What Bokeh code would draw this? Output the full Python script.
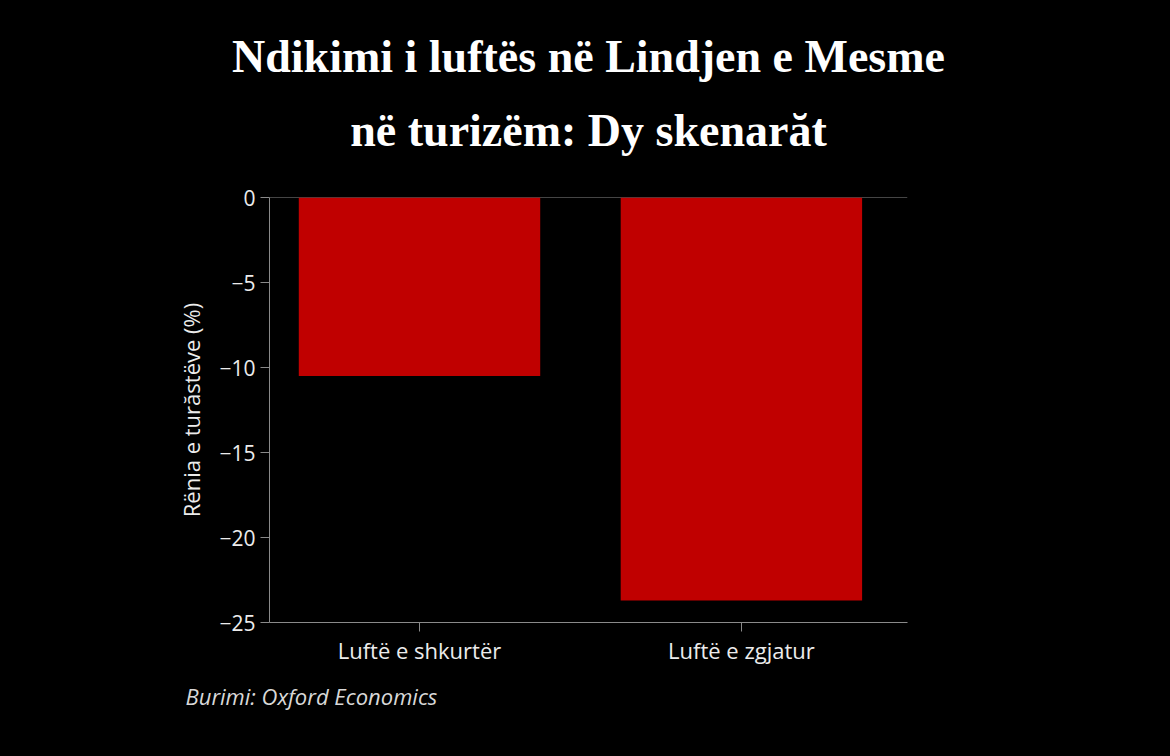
from bokeh.plotting import figure
from bokeh.models import Range1d, FixedTicker, Span, Title
from bokeh.embed import file_html
from bokeh.resources import INLINE

# Data
categories = ["Luftë e shkurtër", "Luftë e zgjatur"]
values = [-10.5, -23.7]
y_ticks = [0, -5, -10, -15, -20, -25]
y_tick_labels = ["0", "−5", "−10", "−15", "−20", "−25"]
title_lines = ["Ndikimi i luftës në Lindjen e Mesme", "në turizëm: Dy skenarăt"]
y_label = "Rënia e turăstëve (%)"
source_text = "Burimi: Oxford Economics"

xs = list(range(len(categories)))

p = figure(width=1170, height=756, output_backend="svg", toolbar_location=None,
           x_range=Range1d(-0.466, 1.516), y_range=Range1d(-25, 0),
           min_border_left=269, min_border_right=263, min_border_top=197, min_border_bottom=134,
           background_fill_color="black", border_fill_color="black")
p.outline_line_color = None
p.grid.visible = False

p.add_layout(Span(location=0, dimension="width", line_color="#8a8a8a", line_width=1, level="underlay"))

p.vbar(x=xs, top=0, bottom=values, width=0.75, fill_color="#c00000", line_color=None)

axis_color = "#8a8a8a"
text_color = "#ececec"

p.xaxis.ticker = FixedTicker(ticks=xs)
p.xaxis.major_label_overrides = {x: c for x, c in zip(xs, categories)}
p.yaxis.ticker = FixedTicker(ticks=y_ticks)
p.yaxis.major_label_overrides = {t: l for t, l in zip(y_ticks, y_tick_labels)}

for ax in (p.xaxis, p.yaxis):
    ax.axis_line_color = axis_color
    ax.major_tick_line_color = axis_color
    ax.major_tick_out = 9
    ax.major_tick_in = 0
    ax.minor_tick_line_color = None
    ax.major_label_text_color = text_color
    ax.major_label_text_font = "Open Sans"
p.yaxis.major_label_text_font_size = "21px"
p.xaxis.major_label_text_font_size = "22px"
p.yaxis.major_label_standoff = 5
p.xaxis.major_label_standoff = 3

p.yaxis.axis_label = y_label
p.yaxis.axis_label_text_font = "Open Sans"
p.yaxis.axis_label_text_font_size = "22px"
p.yaxis.axis_label_text_font_style = "normal"
p.yaxis.axis_label_text_color = text_color
p.yaxis.axis_label_standoff = 10

# Title lines (first added is closest to the frame)
p.add_layout(Title(text=title_lines[1], align="center", standoff=84,
                   text_font="Liberation Serif", text_font_size="46px", text_font_style="bold",
                   text_color="white"), "above")
p.add_layout(Title(text=title_lines[0], align="center", standoff=-43,
                   text_font="Liberation Serif", text_font_size="46px", text_font_style="bold",
                   text_color="white"), "above")

# Source
p.add_layout(Title(text=source_text, align="left", offset=-84, standoff=23,
                   text_font="Open Sans", text_font_size="22px", text_font_style="italic",
                   text_color="#d8d8d8"), "below")

html = file_html(p, INLINE)
html = html.replace("<head>", "<head><style>html,body{background:#000;}</style>", 1)
open("out.html", "w").write(html)
